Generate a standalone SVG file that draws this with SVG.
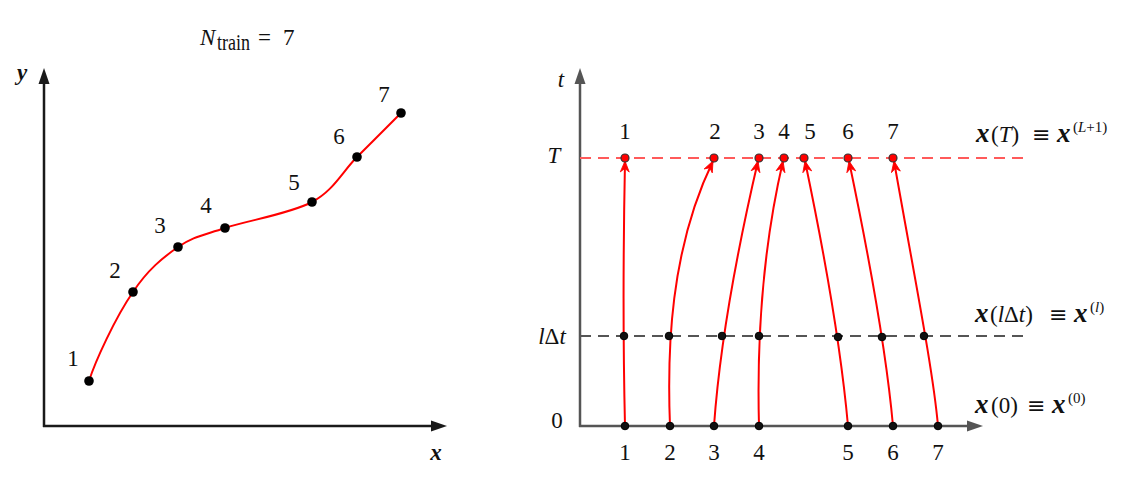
<svg xmlns="http://www.w3.org/2000/svg" width="1143" height="486" viewBox="0 0 1143 486">
<defs>
<style>
text{font-family:"Liberation Serif","DejaVu Serif",serif;font-size:23px;fill:#111}
.c{text-anchor:middle}
.i{font-style:italic}
.b{font-style:italic;font-weight:bold}
.s{font-size:15px}
.eq{font-family:"DejaVu Serif","Liberation Serif",serif;font-size:22px}
.red{fill:none;stroke:#f00;stroke-width:2}
.dk{fill:#111;stroke:#000;stroke-width:1}
.top{fill:#f00;stroke:#333;stroke-width:1.2}
</style>
<marker id="ah" markerUnits="userSpaceOnUse" markerWidth="14" markerHeight="12" refX="12" refY="6" orient="auto" viewBox="0 0 14 12">
<path d="M12,6 L1,1.5 L4.5,6 L1,10.5 Z" fill="#f00" stroke="#f00" stroke-width="0.8" stroke-linejoin="round"/>
</marker>
</defs>
<rect width="1143" height="486" fill="#fff"/>

<g id="left-plot">
<line x1="44" y1="427" x2="44" y2="82" stroke="#1a1a1a" stroke-width="2.5"/>
<polygon points="44,68 38.5,84 49.5,84" fill="#1a1a1a"/>
<line x1="43" y1="426" x2="432" y2="426" stroke="#1a1a1a" stroke-width="2.5"/>
<polygon points="447,426 431,420.5 431,431.5" fill="#1a1a1a"/>
<text x="22" y="80" class="b c" font-size="25">y</text>
<text x="436" y="460" class="b c" font-size="25">x</text>
<text x="200" y="45" class="i" font-size="24">N</text>
<text x="217" y="50" font-size="15" textLength="33" lengthAdjust="spacingAndGlyphs">train</text>
<text x="258" y="45" font-size="24">=</text>
<text x="283" y="45" font-size="24">7</text>
<path class="red" d="M89,381 C95,362 115,318 133,292 C147.8,269.7 162.7,257.7 178,247 C193.3,236.3 202.7,235.5 225,228 C247.3,220.5 290,213.8 312,202 C334,190.2 342.2,171.8 357,157 C371.8,142.2 393.7,120.3 401,113"/>
<g fill="#000">
<circle cx="89" cy="381" r="4.8"/>
<circle cx="133" cy="292" r="4.8"/>
<circle cx="178" cy="247" r="4.8"/>
<circle cx="225" cy="228" r="4.8"/>
<circle cx="312" cy="202" r="4.8"/>
<circle cx="357" cy="157" r="4.8"/>
<circle cx="401" cy="113" r="4.8"/>
</g>
<text x="73" y="366" class="c">1</text>
<text x="115" y="278" class="c">2</text>
<text x="160" y="233" class="c">3</text>
<text x="206" y="213" class="c">4</text>
<text x="294" y="190" class="c">5</text>
<text x="339" y="144" class="c">6</text>
<text x="384" y="102" class="c">7</text>
</g>

<g id="right-axes">
<line x1="580" y1="427" x2="580" y2="82" stroke="#555" stroke-width="2.5"/>
<polygon points="580,68 574.5,84 585.5,84" fill="#555"/>
<line x1="579" y1="426" x2="968" y2="426" stroke="#555" stroke-width="2.5"/>
<polygon points="983,426 967,420.5 967,431.5" fill="#555"/>
<line x1="580" y1="158" x2="1028" y2="158" stroke="#ff5a5a" stroke-width="1.8" stroke-dasharray="11,7"/>
<line x1="580" y1="336" x2="1028" y2="336" stroke="#555" stroke-width="1.8" stroke-dasharray="11,7"/>
<text x="561" y="87" class="i c" font-size="25">t</text>
<text x="554" y="163" class="i c" font-size="25">T</text>
<text x="552" y="344" class="c" font-size="25"><tspan class="i">l</tspan>Δ<tspan class="i">t</tspan></text>
<text x="557" y="428" class="c">0</text>
<text y="142" font-size="25"><tspan x="976" class="b" font-size="27">x</tspan><tspan x="991">(</tspan><tspan class="i">T</tspan><tspan>)</tspan><tspan x="1032" class="eq">≡</tspan><tspan x="1057" class="b" font-size="27">x</tspan><tspan x="1073" dy="-10" class="s">(<tspan class="i">L</tspan>+1)</tspan></text>
<text y="322" font-size="25"><tspan x="975" class="b" font-size="27">x</tspan><tspan x="990">(</tspan><tspan class="i">l</tspan><tspan>Δ</tspan><tspan class="i">t</tspan><tspan>)</tspan><tspan x="1049" class="eq">≡</tspan><tspan x="1074" class="b" font-size="27">x</tspan><tspan x="1090" dy="-10" class="s">(<tspan class="i">l</tspan>)</tspan></text>
<text y="413" font-size="25"><tspan x="975" class="b" font-size="27">x</tspan><tspan x="991">(0)</tspan><tspan x="1027" class="eq">≡</tspan><tspan x="1052" class="b" font-size="27">x</tspan><tspan x="1068" dy="-10" class="s">(0)</tspan></text>
</g>

<g id="connectors">
<path class="red" marker-end="url(#ah)" d="M625,426 C623,340 623,260 625,161"/>
<path class="red" marker-end="url(#ah)" d="M670,426 C667,350 670,250 713,161"/>
<path class="red" marker-end="url(#ah)" d="M714,426 C718,370 728,290 758,161"/>
<path class="red" marker-end="url(#ah)" d="M759,426 C757,350 760,260 783,161"/>
<path class="red" marker-end="url(#ah)" d="M848,426 C843,370 832,290 805,161"/>
<path class="red" marker-end="url(#ah)" d="M893,426 C888,370 876,290 849,161"/>
<path class="red" marker-end="url(#ah)" d="M938,426 C933,370 915,280 894,161"/>
</g>

<g id="bottom-points">
<circle class="dk" cx="625" cy="426" r="3.8"/>
<circle class="dk" cx="670" cy="426" r="3.8"/>
<circle class="dk" cx="714" cy="426" r="3.8"/>
<circle class="dk" cx="759" cy="426" r="3.8"/>
<circle class="dk" cx="848" cy="426" r="3.8"/>
<circle class="dk" cx="893" cy="426" r="3.8"/>
<circle class="dk" cx="938" cy="426" r="3.8"/>
<text x="625" y="460" class="c">1</text>
<text x="670" y="460" class="c">2</text>
<text x="714" y="460" class="c">3</text>
<text x="759" y="460" class="c">4</text>
<text x="848" y="460" class="c">5</text>
<text x="893" y="460" class="c">6</text>
<text x="938" y="460" class="c">7</text>
</g>

<g id="middle-points">
<circle class="dk" cx="624" cy="336" r="3.8"/>
<circle class="dk" cx="669" cy="336" r="3.8"/>
<circle class="dk" cx="722" cy="336" r="3.8"/>
<circle class="dk" cx="759" cy="336" r="3.8"/>
<circle class="dk" cx="838" cy="337" r="3.8"/>
<circle class="dk" cx="882" cy="337" r="3.8"/>
<circle class="dk" cx="924" cy="336" r="3.8"/>
</g>

<g id="top-points">
<circle class="top" cx="625" cy="158" r="4"/>
<circle class="top" cx="714" cy="158" r="4"/>
<circle class="top" cx="759" cy="158" r="4"/>
<circle class="top" cx="784" cy="158" r="4"/>
<circle class="top" cx="804" cy="158" r="4"/>
<circle class="top" cx="848" cy="158" r="4"/>
<circle class="top" cx="893" cy="158" r="4"/>
<text x="625" y="139" class="c">1</text>
<text x="715" y="139" class="c">2</text>
<text x="759" y="139" class="c">3</text>
<text x="784" y="139" class="c">4</text>
<text x="810" y="139" class="c">5</text>
<text x="848" y="139" class="c">6</text>
<text x="893" y="139" class="c">7</text>
</g>
</svg>
